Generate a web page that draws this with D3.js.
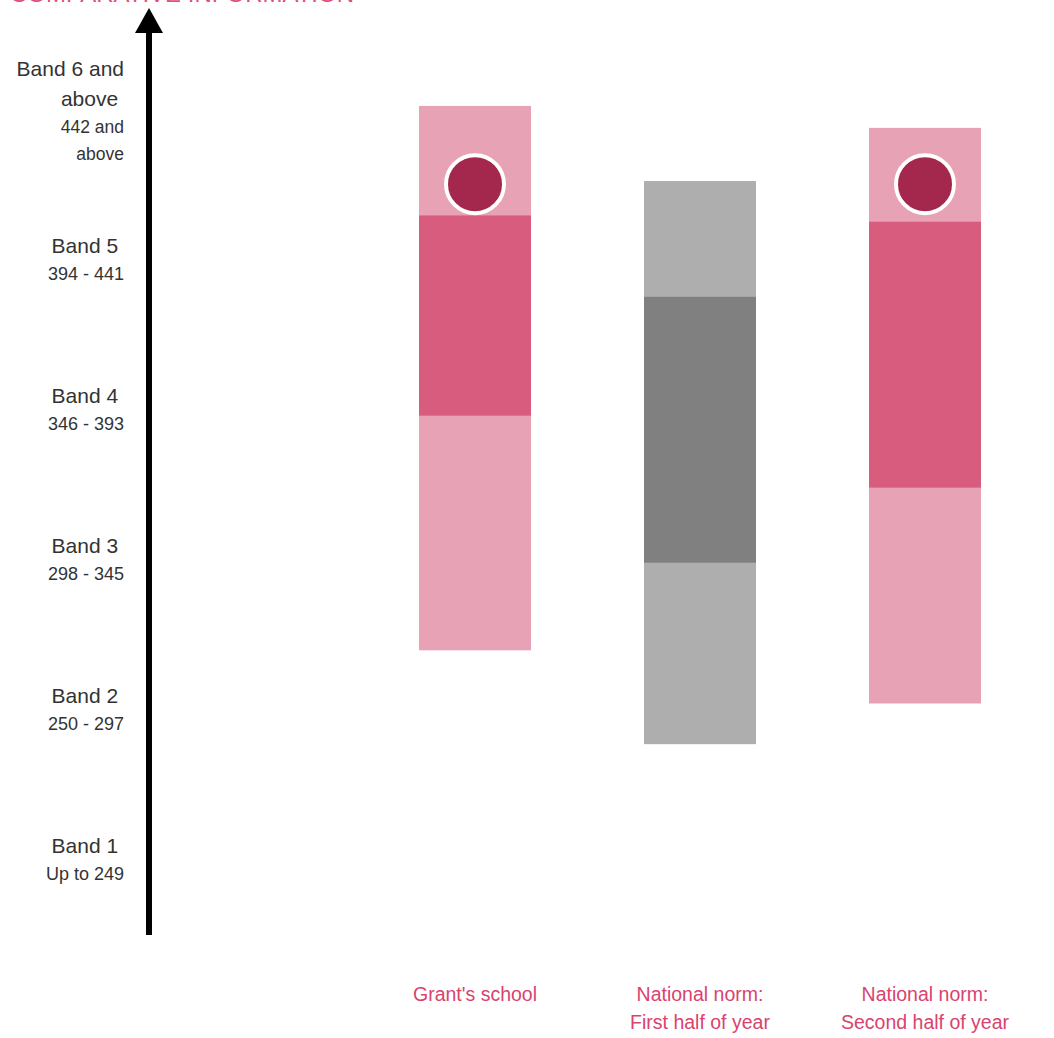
<!DOCTYPE html>
<html>
<head>
<meta charset="utf-8">
<script src="https://cdn.jsdelivr.net/npm/d3@7"></script>
<style>
  body { margin: 0; background: #fff; }
  text { font-family: "Liberation Sans", Arial, sans-serif; white-space: pre; }
</style>
</head>
<body>
<div id="chart"></div>
<script>
// band definitions (score scale)
var bandLower = [202, 250, 298, 346, 394, 442];
var bandUpper = [250, 298, 346, 394, 442, 490];
var bandNames = [['Band 1 '], ['Band 2 '], ['Band 3 '], ['Band 4 '], ['Band 5 '], ['Band 6 and', 'above ']];
var bandRanges = [['Up to 249'], ['250 - 297'], ['298 - 345'], ['346 - 393'], ['394 - 441'], ['442 and', 'above']];

// columns
var categories = ["Grant's school", 'National norm: First half of year', 'National norm: Second half of year'];
var catLines = [["Grant's school"], ['National norm:', 'First half of year'], ['National norm:', 'Second half of year']];
var lowValues = [293, 263, 276];
var q1Values = [368, 321, 345];
var q3Values = [432, 406, 430];
var highValues = [467, 443, 460];
var scoreValues = [442, null, 442];

var width = 1054, height = 1038;

var svg = d3.select('#chart').append('svg')
    .attr('width', width)
    .attr('height', height);

var y = d3.scaleLinear()
    .domain([202, 490])
    .range([935, 34]);

var x = d3.scalePoint()
    .domain(categories)
    .range([475, 925]);

var barW = 112;

// title (cut off at the top, as in the original)
svg.append('text')
    .attr('x', 10)
    .attr('y', 2)
    .attr('fill', '#e0507e')
    .attr('font-size', '24px')
    .text('COMPARATIVE INFORMATION');

// vertical arrow axis
svg.append('line')
    .attr('x1', 149).attr('x2', 149)
    .attr('y1', y(202)).attr('y2', y(490) - 2)
    .attr('stroke', '#000')
    .attr('stroke-width', 6);

svg.append('path')
    .attr('d', 'M135,' + (y(490) - 1) + ' L149,8 L163,' + (y(490) - 1) + ' Z')
    .attr('fill', '#000');

// band labels
var bands = bandLower.map(function(d, i) {
    return { lo: d, hi: bandUpper[i], name: bandNames[i], range: bandRanges[i] };
});

var bandG = svg.selectAll('.band')
    .data(bands)
    .enter()
    .append('g')
    .attr('class', 'band')
    .attr('transform', function(d) {
        return 'translate(124,' + y((d.lo + d.hi) / 2) + ')';
    });

bandG.each(function(d) {
    var g = d3.select(this);
    var big = d.name.length > 1;
    var start = big ? -40 : -14;
    d.name.forEach(function(t, i) {
        g.append('text')
            .attr('y', start + i * 30)
            .attr('dy', '0.35em')
            .attr('text-anchor', 'end')
            .attr('font-size', '21px')
            .attr('fill', '#333')
            .text(t);
    });
    var s0 = big ? 18 : 14;
    d.range.forEach(function(t, i) {
        g.append('text')
            .attr('y', s0 + i * 27)
            .attr('dy', '0.35em')
            .attr('text-anchor', 'end')
            .attr('font-size', big ? '17.5px' : '18px')
            .attr('fill', '#333')
            .text(t);
    });
});

// columns
var cols = categories.map(function(c, i) {
    return { cat: c, lines: catLines[i], lo: lowValues[i], q1: q1Values[i],
             q3: q3Values[i], hi: highValues[i], score: scoreValues[i], grey: i === 1 };
});

var colG = svg.selectAll('.col')
    .data(cols)
    .enter()
    .append('g')
    .attr('class', 'col');

colG.append('rect')
    .attr('x', function(d) { return x(d.cat) - barW / 2; })
    .attr('y', function(d) { return y(d.hi); })
    .attr('width', barW)
    .attr('height', function(d) { return y(d.lo) - y(d.hi); })
    .attr('fill', function(d) { return d.grey ? '#aeaeae' : '#e8a2b6'; });

colG.append('rect')
    .attr('x', function(d) { return x(d.cat) - barW / 2; })
    .attr('y', function(d) { return y(d.q3); })
    .attr('width', barW)
    .attr('height', function(d) { return y(d.q1) - y(d.q3); })
    .attr('fill', function(d) { return d.grey ? '#808080' : '#d75c7e'; });

colG.filter(function(d) { return d.score != null; })
    .append('circle')
    .attr('cx', function(d) { return x(d.cat); })
    .attr('cy', function(d) { return y(d.score); })
    .attr('r', 29)
    .attr('fill', '#a4284e')
    .attr('stroke', '#fff')
    .attr('stroke-width', 4);

colG.each(function(d) {
    var g = d3.select(this);
    d.lines.forEach(function(t, i) {
        g.append('text')
            .attr('x', x(d.cat))
            .attr('y', 994 + i * 28)
            .attr('dy', '0.35em')
            .attr('text-anchor', 'middle')
            .attr('font-size', '19.5px')
            .attr('fill', '#d9436f')
            .text(t);
    });
});
</script>
</body>
</html>
